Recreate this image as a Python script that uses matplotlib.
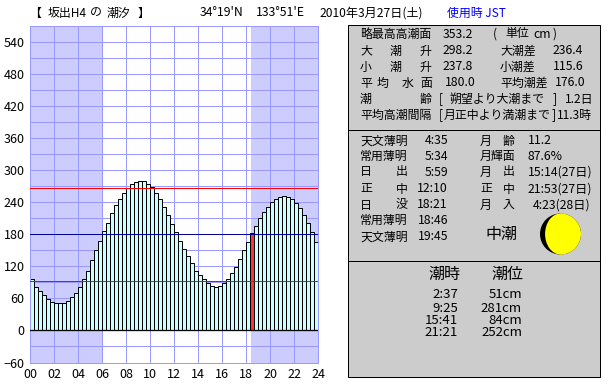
import numpy as np
import matplotlib
matplotlib.use("Agg")
import matplotlib.pyplot as plt
from matplotlib.patches import Rectangle, Circle, Wedge, Ellipse

plt.rcParams['font.family'] = ['Noto Sans CJK JP', 'DejaVu Sans']

# tide height every 20 minutes, cm
tide = [96, 82, 73, 66, 58, 54, 51, 51, 52, 56, 62, 71,
        82, 97, 112, 131, 150, 167, 186, 202, 219, 234, 246, 257,
        266, 274, 278, 279, 279, 275, 268, 258, 247, 232, 217, 200,
        184, 167, 152, 139, 126, 112, 103, 96, 88, 84, 82, 84,
        88, 96, 107, 118, 133, 150, 165, 182, 195, 210, 221, 231,
        240, 246, 249, 251, 249, 246, 238, 229, 216, 201, 184, 165]
bar_hours = np.arange(72) / 3
now_index = 55

sunrise = 5 + 59 / 60
sunset = 18 + 21 / 60
red_levels = [266, 92]
blue_level = 180
y_ticks = list(range(-60, 541, 60))
x_ticks = list(range(0, 25, 2))
moon_lit = 0.876

W, H = 610, 385
GRID = '#9999ff'
NIGHT = '#ccccff'
PX = 0.72  # one pixel in points
NUM = 8.8

fig = plt.figure(figsize=(W / 100, H / 100), dpi=100, facecolor='white')

# tide chart
ax = fig.add_axes([30 / W, 1 - 362.5 / H, 288.5 / W, 336.5 / H])
ax.set_xlim(0, 24)
ax.set_ylim(-60, 570)
ax.axvspan(0, sunrise, color=NIGHT, lw=0, zorder=0)
ax.axvspan(sunset, 24, color=NIGHT, lw=0, zorder=0)
ax.set_yticks(range(-60, 571, 30), minor=True)
ax.set_yticks(y_ticks)
ax.set_xticks(x_ticks)
ax.set_xticklabels(['%02d' % h for h in x_ticks])
ax.grid(True, which='both', color=GRID, lw=PX)
ax.set_axisbelow(True)
ax.tick_params(which='both', length=0, labelsize=9, pad=4)
for s in ax.spines.values():
    s.set_color(GRID)
    s.set_linewidth(PX)

bars = ax.bar(bar_hours, tide, width=1 / 3, align='edge', color='#ccffff',
              edgecolor='black', linewidth=PX, zorder=2)
bars[now_index].set_facecolor('#ff3333')
ax.axhline(0, color='black', lw=PX * 1.3, zorder=3)
for level in red_levels:
    ax.axhline(level, color='#ff0000', lw=PX, zorder=4)
ax.axhline(blue_level, color='#000099', lw=PX, zorder=4)

# everything else is laid out in pixels on an overlay
ov = fig.add_axes([0, 0, 1, 1], facecolor='none')
ov.set_xlim(0, W)
ov.set_ylim(H, 0)
ov.axis('off')

for top, bottom in [(24.5, 130), (130, 260.5), (260.5, 377)]:
    ov.add_patch(Rectangle((347.5, top), 252.5, bottom - top, facecolor='#cccccc',
                           edgecolor='black', lw=PX))


def put(x, y, s, ha='left', size=8.6, color='black'):
    ov.text(x, y, s, ha=ha, va='center', fontsize=size, color=color)


# header
put(29, 13, '【')
put(48, 13, '坂出H4')
put(90, 13, 'の')
put(107, 13, '潮汐')
put(138, 13, '】')
put(200, 13, "34°19'N", size=NUM)
put(256, 13, "133°51'E", size=NUM)
put(319, 13, '2010年3月27日(土)', size=8.7)
put(447, 13, '使用時 JST', color='#0000ff')

# datum panel
rows = [34, 51, 67, 83, 99, 115]
put(360, rows[0], '略最高高潮面')
put(443, rows[0], '353.2', size=NUM)
put(493, rows[0], '(')
put(505, rows[0], '単位')
put(533, rows[0], 'cm', size=NUM)
put(553, rows[0], ')')
for y, c, val, name, diff in [(rows[1], '大', '298.2', '大潮差', '236.4'),
                              (rows[2], '小', '237.8', '小潮差', '115.6')]:
    put(360, y, c)
    put(390, y, '潮')
    put(420, y, '升')
    put(443, y, val, size=NUM)
    put(500, y, name)
    put(553, y, diff, size=NUM)
for x, c in [(360, '平'), (377, '均'), (402, '水'), (420, '面')]:
    put(x, rows[3], c)
put(445, rows[3], '180.0', size=NUM)
put(500, rows[3], '平均潮差')
put(555, rows[3], '176.0', size=NUM)
put(360, rows[4], '潮')
put(420, rows[4], '齢')
put(439, rows[4], '[')
put(449, rows[4], '朔望より大潮まで')
put(553, rows[4], ']')
put(565, rows[4], '1.2日')
put(360, rows[5], '平均高潮間隔')
put(439, rows[5], '[')
put(444, rows[5], '月正中より満潮まで')
put(552, rows[5], ']')
put(557, rows[5], '11.3時')

# sun and moon panel
rows2 = [141, 156, 172, 189, 205, 220, 237]
sun = [('天文薄明', None, '4:35'), ('常用薄明', None, '5:34'), ('日', '出', '5:59'),
       ('正', '中', '12:10'), ('日', '没', '18:21'), ('常用薄明', None, '18:46'),
       ('天文薄明', None, '19:45')]
for y, (a, b, t) in zip(rows2, sun):
    put(360, y, a)
    if b:
        put(396, y, b)
    put(448, y, t, ha='right', size=NUM)
moon = [('月', '齢', '11.2', 528), ('月輝面', None, '87.6%', 528),
        ('月', '出', '15:14(27日)', 528), ('正', '中', '21:53(27日)', 528),
        ('月', '入', '4:23(28日)', 533)]
for y, (a, b, t, x) in zip(rows2, moon):
    put(480, y, a)
    if b:
        put(503, y, b)
    put(x, y, t, size=NUM)
put(501.5, 234, '中潮', ha='center', size=11.5)

mx, my, mr = 560.5, 234, 20.5
ov.add_patch(Circle((mx, my), mr, color='black', lw=0))
ov.add_patch(Wedge((mx, my), mr, -90, 90, color='#ffff00', lw=0))
ov.add_patch(Ellipse((mx, my), 2 * mr * (2 * moon_lit - 1), 2 * mr, color='#ffff00', lw=0))

# high and low tides panel
put(444, 274, '潮時', ha='center', size=11.5)
put(507, 274, '潮位', ha='center', size=11.5)
tide_times = ['2:37', '9:25', '15:41', '21:21']
tide_levels = ['51cm', '281cm', '84cm', '252cm']
for y, t, v in zip([294, 308, 321, 333], tide_times, tide_levels):
    put(458, y, t, ha='right', size=9.5)
    put(522, y, v, ha='right', size=9.5)

fig.savefig('out.png', dpi=100)
